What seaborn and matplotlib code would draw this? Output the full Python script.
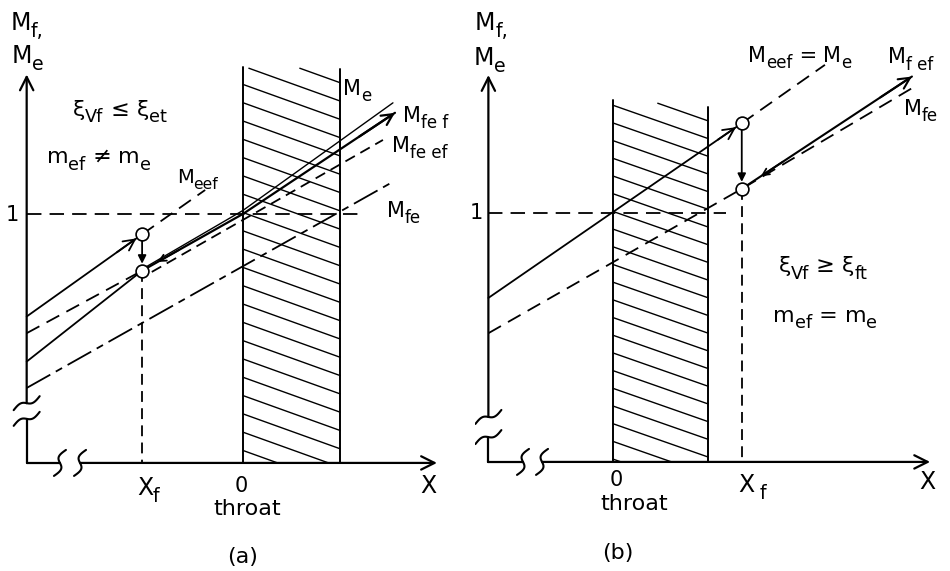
import numpy as np
import matplotlib
matplotlib.use("Agg")
import matplotlib.pyplot as plt
import matplotlib.transforms as mtransforms
import seaborn as sns

sns.set_theme(style="white")
plt.rcParams["font.family"] = ["DejaVu Sans"]
plt.rcParams["mathtext.fontset"] = "dejavusans"
plt.rcParams["text.color"] = "black"

#%% panel (a) -- x: throat runs 0..1, y: Mach number (1 = sonic)
a_ax_x, a_ax_top, a_ax_end = -2.23, 1.56, 2.0
a_ybreak = [0.177, 0.24]
a_xbreak = [-1.887, -1.68]
a_unity_end = 1.23
a_throat_top = [1.59, 1.58]
a_hatch = (1.667, 0.0735, -0.140)      # first intercept, spacing, slope
a_xf = -1.04
a_circ_y = [0.918, 0.772]

a_meef_x = [-2.23, -1.04]
a_meef_y = [0.588, 0.918]
a_meef_ext_x = [-1.04, -0.39]
a_meef_ext_y = [0.918, 1.096]
a_lo1_x = [-2.23, -1.04]
a_lo1_y = [0.521, 0.772]
a_lo2_x = [-2.23, -1.04]
a_lo2_y = [0.407, 0.772]
a_mfe_x = [-2.23, 1.546]
a_mfe_y = [0.301, 1.129]
a_mfef_x = [-1.04, 0.0, 1.567]
a_mfef_y = [0.772, 1.0, 1.406]
a_me_x = [-1.04, 0.0, 1.546]
a_me_y = [0.778, 1.014, 1.446]
a_mfeef_x = [-0.94, 1.443]
a_mfeef_y = [0.767, 1.297]

#%% panel (b)
b_ax_x, b_ax_top, b_ax_end = -1.30, 1.557, 3.32
b_ybreak = [0.10, 0.181]
b_xbreak = [-0.938, -0.739]
b_unity_end = 1.19
b_throat_top = [1.457, 1.430]
b_hatch = (1.507, 0.0712, -0.1347)
b_xf = 1.35
b_circ_y = [1.363, 1.099]

b_sonic_x = [-1.30, 1.35]
b_sonic_y = [0.66, 1.363]
b_meef_x = [1.35, 2.22]
b_meef_y = [1.363, 1.598]
b_mfe_x = [-1.30, 1.35, 3.13]
b_mfe_y = [0.518, 1.099, 1.504]
b_mfef_x = [1.35, 3.13]
b_mfef_y = [1.099, 1.551]

DASH = (0, (8, 4.5))
DASH_S = (0, (6, 3.5))
DASH_L = (0, (15, 3.5, 4, 3.5))
LW = 1.3


def line(ax, xs, ys, ls="-", lw=LW):
    sns.lineplot(x=xs, y=ys, ax=ax, color="black", linestyle=ls, linewidth=lw,
                 estimator=None, sort=False, legend=False)


def arrow(ax, tail, tip, style="->", lw=LW, shrink=0, ms=20):
    ax.annotate("", xy=tip, xytext=tail,
                arrowprops=dict(arrowstyle=style, color="black", lw=lw,
                                shrinkA=0, shrinkB=shrink, mutation_scale=ms))


def on_line(xs, ys, x):
    return (x, float(np.interp(x, xs, ys)))


def breaks(ax, x0, y0, ux, uy, vertical_axis):
    t = np.linspace(-1, 1, 40)
    if vertical_axis:
        dx, dy = 13 * t, 7 * t - 3 * np.sin(np.pi * t)
    else:
        dx, dy = 6 * t - 4 * np.sin(np.pi * t), 13 * t
    ax.plot(x0 + dx / ux, y0 + dy / uy, color="black", lw=1.5)


def frame(ax, ax_x, ax_top, ax_end, ybrk, xbrk, unity_end, top, hatch, ux, uy):
    # axes with breaks
    line(ax, [ax_x, ax_x], [0, ybrk[0]], lw=1.6)
    arrow(ax, (ax_x, ybrk[1]), (ax_x, ax_top), lw=1.6, ms=24)
    line(ax, [ax_x, xbrk[0]], [0, 0], lw=1.6)
    arrow(ax, (xbrk[1], 0), (ax_end, 0), lw=1.6, ms=24)
    for yb in ybrk:
        breaks(ax, ax_x, yb, ux, uy, True)
    for xb in xbrk:
        breaks(ax, xb, 0, ux, uy, False)
    # sonic level
    line(ax, [ax_x, unity_end], [1, 1], ls=DASH)
    # throat band
    line(ax, [0, 0], [0, top[0]], lw=1.4)
    line(ax, [1, 1], [0, top[1]], lw=1.4)
    start, step, slope = hatch
    ytop = np.mean(top)
    for b in np.arange(start, 0, -step):
        x0 = max(0.0, (b - ytop) / -slope)
        x1 = min(1.0, b / -slope)
        if x0 < x1:
            ax.plot([x0, x1], [b + slope * x0, b + slope * x1], color="black", lw=1.0)


def circles(ax, x, ys):
    sns.scatterplot(x=[x] * len(ys), y=ys, ax=ax, s=85, color="white",
                    edgecolor="black", linewidth=1.2, zorder=5, legend=False)


def rich(ax, x, y, parts, size=15, sub=0.8):
    # text with larger subscripts than mathtext gives; parts = [(str, is_sub)]
    fig = ax.figure
    r = fig.canvas.get_renderer()
    dx = 0.0
    for s, is_sub in parts:
        fs = size * sub if is_sub else size
        dy = -size * 0.3 if is_sub else 0.0
        tr = mtransforms.offset_copy(ax.transData, fig=fig, x=dx, y=dy, units="points")
        t = ax.text(x, y, s, fontsize=fs, transform=tr, ha="left", va="baseline")
        dx += t.get_window_extent(r).width * 72 / fig.dpi


fig = plt.figure(figsize=(9.5, 5.71), dpi=100)
ax_a = fig.add_axes([0, 0, 0.5, 1])
ax_b = fig.add_axes([0.5, 0, 0.5, 1])
ax_a.set_xlim(-2.505, 2.392)
ax_a.set_ylim(-0.434, 1.859)
ax_b.set_xlim(-1.440, 3.528)
ax_b.set_ylim(-0.439, 1.859)

#%% (a)
frame(ax_a, a_ax_x, a_ax_top, a_ax_end, a_ybreak, a_xbreak, a_unity_end,
      a_throat_top, a_hatch, 97, 249)
line(ax_a, a_meef_x, a_meef_y)
arrow(ax_a, on_line(a_meef_x, a_meef_y, -1.3), (a_xf, a_circ_y[0]), shrink=5)
line(ax_a, a_meef_ext_x, a_meef_ext_y, ls=DASH)
line(ax_a, a_lo1_x, a_lo1_y, ls=DASH)
line(ax_a, a_lo2_x, a_lo2_y)
line(ax_a, a_mfe_x, a_mfe_y, ls=DASH_L)
line(ax_a, a_mfef_x, a_mfef_y, lw=1.6)
arrow(ax_a, on_line(a_mfef_x, a_mfef_y, 1.2), (a_mfef_x[-1], a_mfef_y[-1]), lw=1.6)
arrow(ax_a, on_line(a_mfef_x, a_mfef_y, -0.66), on_line(a_mfef_x, a_mfef_y, -0.88), ms=12)
line(ax_a, a_me_x, a_me_y, lw=1.0)
line(ax_a, a_mfeef_x, a_mfeef_y, ls=DASH_S)
arrow(ax_a, (a_xf, a_circ_y[0]), (a_xf, a_circ_y[1]), style="-|>", shrink=5, ms=12)
line(ax_a, [a_xf, a_xf], [a_circ_y[1], 0], ls=DASH_S)
circles(ax_a, a_xf, a_circ_y)

rich(ax_a, -2.40, 1.739, [("M", 0), ("f,", 1)], 17)
rich(ax_a, -2.39, 1.606, [("M", 0), ("e", 1)], 17)
rich(ax_a, -1.753, 1.394, [("ξ", 0), ("Vf", 1), (" ≤ ", 0), ("ξ", 0), ("et", 1)], 16)
rich(ax_a, -2.024, 1.205, [("m", 0), ("ef", 1), (" ≠ ", 0), ("m", 0), ("e", 1)], 16)
rich(ax_a, -0.684, 1.124, [("M", 0), ("eef", 1)], 14)
rich(ax_a, 1.031, 1.478, [("M", 0), ("e", 1)], 15)
rich(ax_a, 1.649, 1.371, [("M", 0), ("fe f", 1)], 15)
rich(ax_a, 1.533, 1.250, [("M", 0), ("fe ef", 1)], 15)
rich(ax_a, 1.481, 0.989, [("M", 0), ("fe", 1)], 15)
rich(ax_a, -1.093, -0.1285, [("X", 0), ("f", 1)], 17)
ax_a.text(-2.38, 0.996, "1", fontsize=15, ha="center", va="center")
ax_a.text(-0.02, -0.092, "0", fontsize=15, ha="center", va="center")
ax_a.text(0.046, -0.185, "throat", fontsize=16, ha="center", va="center")
ax_a.text(1.907, -0.092, "X", fontsize=17, ha="center", va="center")
ax_a.text(0.0, -0.378, "(a)", fontsize=16, ha="center", va="center")

#%% (b)
frame(ax_b, b_ax_x, b_ax_top, b_ax_end, b_ybreak, b_xbreak, b_unity_end,
      b_throat_top, b_hatch, 95.6, 248.5)
line(ax_b, b_sonic_x, b_sonic_y)
arrow(ax_b, on_line(b_sonic_x, b_sonic_y, 1.1), (b_xf, b_circ_y[0]), shrink=5)
line(ax_b, b_meef_x, b_meef_y, ls=DASH)
line(ax_b, b_mfe_x, b_mfe_y, ls=DASH)
line(ax_b, b_mfef_x, b_mfef_y, lw=1.5)
arrow(ax_b, on_line(b_mfef_x, b_mfef_y, 2.8), (b_mfef_x[-1], b_mfef_y[-1]), lw=1.5)
arrow(ax_b, on_line(b_mfef_x, b_mfef_y, 1.78), on_line(b_mfef_x, b_mfef_y, 1.55), ms=12)
arrow(ax_b, (b_xf, b_circ_y[0]), (b_xf, b_circ_y[1]), style="-|>", shrink=5, ms=12)
line(ax_b, [b_xf, b_xf], [b_circ_y[1], 0], ls=DASH_S)
circles(ax_b, b_xf, b_circ_y)

rich(ax_b, -1.44, 1.738, [("M", 0), ("f,", 1)], 17)
rich(ax_b, -1.451, 1.598, [("M", 0), ("e", 1)], 17)
rich(ax_b, 1.418, 1.61, [("M", 0), ("eef", 1), (" = ", 0), ("M", 0), ("e", 1)], 15)
rich(ax_b, 2.883, 1.604, [("M", 0), ("f ef", 1)], 15)
rich(ax_b, 3.047, 1.396, [("M", 0), ("fe", 1)], 15)
rich(ax_b, 1.733, 0.765, [("ξ", 0), ("Vf", 1), (" ≥ ", 0), ("ξ", 0), ("ft", 1)], 16)
rich(ax_b, 1.677, 0.565, [("m", 0), ("ef", 1), (" = ", 0), ("m", 0), ("e", 1)], 16)
rich(ax_b, 1.311, -0.121, [("X", 0), (" f", 1)], 17)
ax_b.text(-1.43, 1.002, "1", fontsize=15, ha="center", va="center")
ax_b.text(0.035, -0.072, "0", fontsize=15, ha="center", va="center")
ax_b.text(0.223, -0.169, "throat", fontsize=16, ha="center", va="center")
ax_b.text(3.293, -0.08, "X", fontsize=17, ha="center", va="center")
ax_b.text(0.05, -0.366, "(b)", fontsize=16, ha="center", va="center")

for ax in (ax_a, ax_b):
    ax.set_xlim(ax.get_xlim())
    ax.set_axis_off()
ax_a.set_xlim(-2.505, 2.392)
ax_a.set_ylim(-0.434, 1.859)
ax_b.set_xlim(-1.440, 3.528)
ax_b.set_ylim(-0.439, 1.859)

fig.savefig("out.png", dpi=100, facecolor="white")
